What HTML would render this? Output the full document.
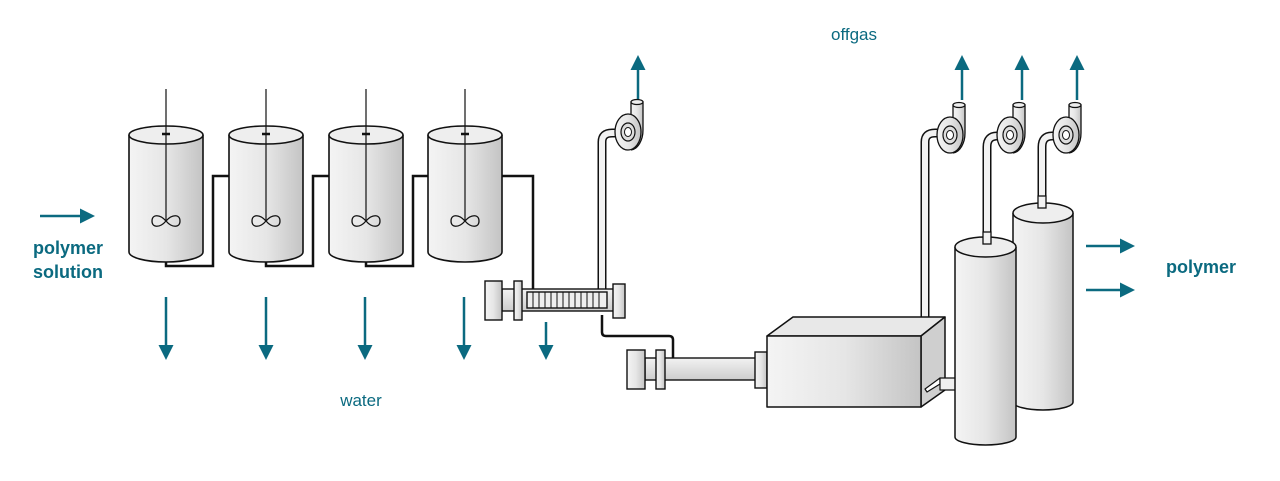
<!DOCTYPE html>
<html><head><meta charset="utf-8"><style>html,body{margin:0;padding:0;background:#fff}svg{display:block}text{font-family:"Liberation Sans",sans-serif;fill:#0b6a80}</style></head><body>
<svg width="1280" height="481" viewBox="0 0 1280 481" xmlns="http://www.w3.org/2000/svg">
<defs>
<linearGradient id="g" x1="0" x2="1" y1="0" y2="0"><stop offset="0" stop-color="#f4f4f4"/><stop offset="0.5" stop-color="#e6e6e6"/><stop offset="1" stop-color="#c4c4c4"/></linearGradient>
<linearGradient id="gv" x1="0" x2="0" y1="0" y2="1"><stop offset="0" stop-color="#f2f2f2"/><stop offset="1" stop-color="#cdcdcd"/></linearGradient>
<marker id="ah" viewBox="0 0 10 10" refX="4" refY="5" markerWidth="6" markerHeight="6" orient="auto"><path d="M0,0L10,5L0,10z" fill="#0b6a80"/></marker>
<g id="tank">
<path d="M-37,0 V117 A37,10 0 0 0 37,117 V0" fill="url(#g)" stroke="#111" stroke-width="1.6"/>
<ellipse cx="0" cy="0" rx="37" ry="9" fill="#eee" stroke="#111" stroke-width="1.6"/>
<line x1="0" y1="-46" x2="0" y2="86" stroke="#111" stroke-width="1.2"/>
<line x1="-4" y1="-1" x2="4" y2="-1" stroke="#111" stroke-width="2.5"/>
<path d="M0,86 C-6,79 -14,79 -14,86 C-14,93 -6,93 0,86 C6,79 14,79 14,86 C14,93 6,93 0,86Z" fill="none" stroke="#111" stroke-width="1.3"/>
</g>
<g id="fan">
<path d="M3,-16 V-30 H15 V-2 C15,8 10,17 3,18" fill="url(#g)" stroke="#111" stroke-width="1.3"/>
<ellipse cx="9" cy="-30" rx="6" ry="2.5" fill="#eee" stroke="#111" stroke-width="1.2"/>
<ellipse cx="0" cy="0" rx="13" ry="18" fill="url(#g)" stroke="#111" stroke-width="1.3"/>
<ellipse cx="0" cy="0" rx="7" ry="9" fill="#ddd" stroke="#111" stroke-width="1.2"/>
<ellipse cx="0" cy="0" rx="3.5" ry="4.5" fill="#fff" stroke="#111" stroke-width="1"/>
</g>
</defs>
<text x="68" y="254" font-size="18" font-weight="bold" text-anchor="middle">polymer</text>
<text x="68" y="278" font-size="18" font-weight="bold" text-anchor="middle">solution</text>
<text x="361" y="406" font-size="17" text-anchor="middle">water</text>
<text x="854" y="40" font-size="17" text-anchor="middle">offgas</text>
<text x="1201" y="273" font-size="18" font-weight="bold" text-anchor="middle">polymer</text>
<g stroke="#0b6a80" stroke-width="2.5" marker-end="url(#ah)" fill="none">
<line x1="40" y1="216" x2="86" y2="216"/>
<line x1="166" y1="297" x2="166" y2="351"/>
<line x1="266" y1="297" x2="266" y2="351"/>
<line x1="365" y1="297" x2="365" y2="351"/>
<line x1="464" y1="297" x2="464" y2="351"/>
<line x1="546" y1="322" x2="546" y2="351"/>
<line x1="638" y1="100" x2="638" y2="64"/>
<line x1="962" y1="100" x2="962" y2="64"/>
<line x1="1022" y1="100" x2="1022" y2="64"/>
<line x1="1077" y1="100" x2="1077" y2="64"/>
<line x1="1086" y1="246" x2="1126" y2="246"/>
<line x1="1086" y1="290" x2="1126" y2="290"/>
</g>
<g stroke="#111" stroke-width="2.5" fill="none">
<path d="M166,255 V266 H213 V176 H230"/>
<path d="M266,255 V266 H313 V176 H330"/>
<path d="M366,255 V266 H413 V176 H429"/>
<path d="M502,176 H533 V290"/>
<path d="M602,315 V332 Q602,336 606,336 H669 Q673,336 673,340 V358"/>
</g>
<use href="#tank" x="166" y="135"/>
<use href="#tank" x="266" y="135"/>
<use href="#tank" x="366" y="135"/>
<use href="#tank" x="465" y="135"/>
<g fill="none">
<path d="M602,290 V142 Q602,133 612,133 H626" stroke="#111" stroke-width="9"/>
<path d="M602,290 V142 Q602,133 612,133 H626" stroke="#f2f2f2" stroke-width="6"/>
<path d="M925,322 V142 Q925,133 935,133 H947" stroke="#111" stroke-width="9"/>
<path d="M925,322 V142 Q925,133 935,133 H947" stroke="#f2f2f2" stroke-width="6"/>
<path d="M987,240 V147 Q987,136 997,136 H1009" stroke="#111" stroke-width="9"/>
<path d="M987,240 V147 Q987,136 997,136 H1009" stroke="#f2f2f2" stroke-width="6"/>
<path d="M1042,203 V147 Q1042,136 1052,136 H1064" stroke="#111" stroke-width="9"/>
<path d="M1042,203 V147 Q1042,136 1052,136 H1064" stroke="#f2f2f2" stroke-width="6"/>
</g>
<use href="#fan" x="628" y="132"/>
<use href="#fan" x="950" y="135"/>
<use href="#fan" x="1010" y="135"/>
<use href="#fan" x="1066" y="135"/>
<g stroke="#111" stroke-width="1.4">
<rect x="502" y="289" width="113" height="22" fill="url(#gv)"/>
<rect x="485" y="281" width="17" height="39" fill="url(#g)"/>
<rect x="514" y="281" width="8" height="39" fill="url(#g)"/>
<rect x="527" y="292" width="80" height="16" fill="#eee"/>
<path d="M533,292v16M539,292v16M545,292v16M551,292v16M557,292v16M563,292v16M569,292v16M575,292v16M581,292v16M587,292v16M593,292v16M599,292v16" stroke-width="1"/>
<rect x="613" y="284" width="12" height="34" fill="url(#g)"/>
</g>
<g stroke="#111" stroke-width="1.4">
<rect x="645" y="358" width="112" height="22" fill="url(#gv)"/>
<rect x="627" y="350" width="18" height="39" fill="url(#g)"/>
<rect x="656" y="350" width="9" height="39" fill="url(#g)"/>
<rect x="755" y="352" width="12" height="36" fill="url(#g)"/>
</g>
<g stroke="#111" stroke-width="1.5" stroke-linejoin="round">
<path d="M767,336 L793,317 H945 L921,336Z" fill="#e8e8e8"/>
<path d="M921,336 L945,317 V390 L921,407Z" fill="#cfcfcf"/>
<rect x="767" y="336" width="154" height="71" fill="url(#g)"/>
<path d="M925,389 L940,378 V384 L927,392Z" fill="#fff" stroke-width="1.2"/>
<rect x="940" y="378" width="17" height="12" fill="#eee" stroke-width="1.2"/>
</g>
<g stroke="#111" stroke-width="1.5">
<path d="M1013,213 V402 A30,8 0 0 0 1073,402 V213" fill="url(#g)"/>
<ellipse cx="1043" cy="213" rx="30" ry="10" fill="#eee"/>
<path d="M955,247 V437 A30.5,8 0 0 0 1016,437 V247" fill="url(#g)"/>
<ellipse cx="985.5" cy="247" rx="30.5" ry="10" fill="#eee"/>
</g>
<g fill="#f2f2f2" stroke="#111" stroke-width="1.3">
<rect x="983" y="232" width="8" height="12"/>
<rect x="1038" y="196" width="8" height="12"/>
</g>
</svg>
</body></html>
